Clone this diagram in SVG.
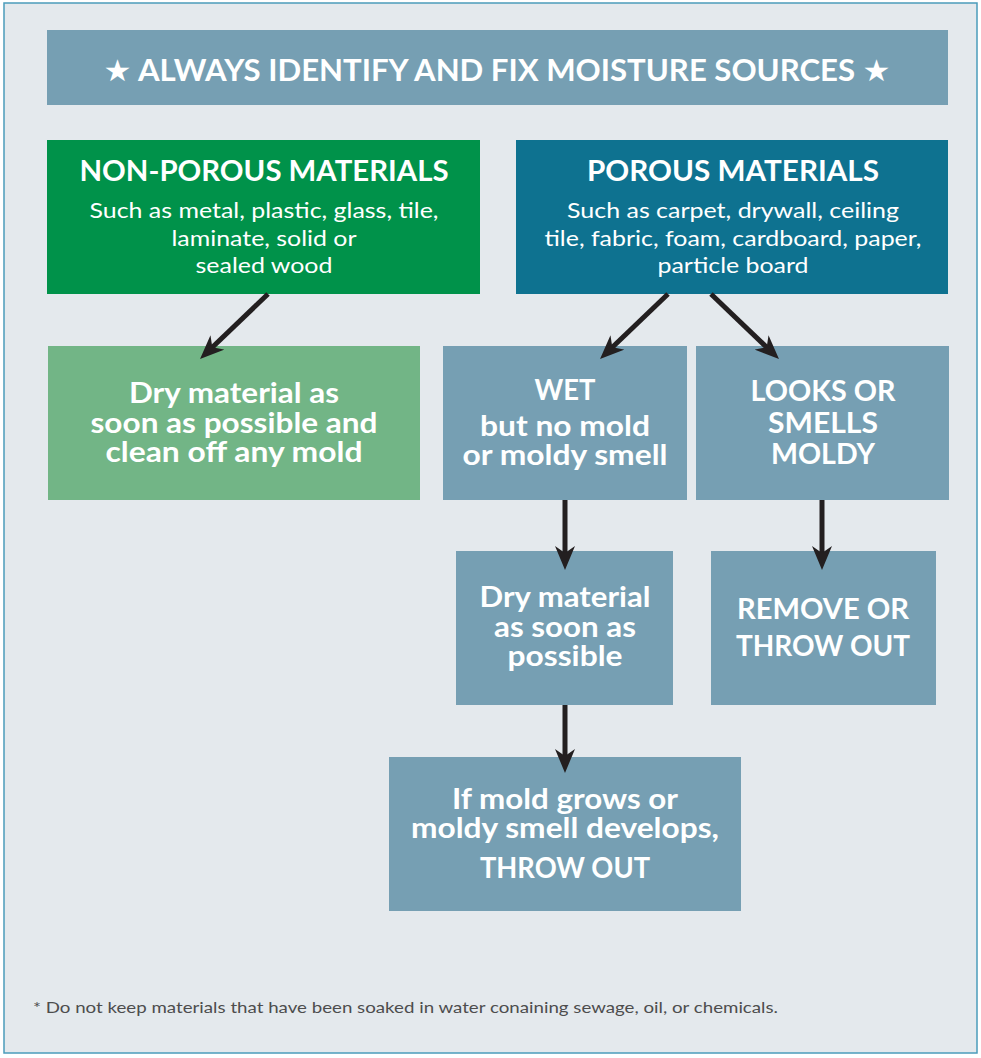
<svg xmlns="http://www.w3.org/2000/svg" width="981" height="1058" viewBox="0 0 981 1058">
<style>
  text { font-family: Lato, "Open Sans", "DejaVu Sans", sans-serif; fill: #ffffff; text-anchor: middle; }
  .b { font-weight: 700; }
  .t { font-size: 28px; font-weight: 700; }
  .s { font-size: 22px; font-weight: 400; }
  .m { font-size: 28px; font-weight: 700; }
  .conn { stroke: #231f20; stroke-width: 5; fill: none; marker-end: url(#ah); }
  .foot { font-size: 16px; fill: #4d4d4d; text-anchor: start; }
</style>
<defs>
  <marker id="ah" viewBox="0 -10 26 20" markerWidth="26" markerHeight="20" refX="12" refY="0" orient="auto" markerUnits="userSpaceOnUse">
    <path d="M24,0 L0,-10 L7,0 L0,10 Z" fill="#231f20"/>
  </marker>
</defs>
<rect x="0" y="0" width="981" height="1058" fill="#ffffff"/>
<rect x="4" y="3" width="973" height="1050" fill="#e4e9ed" stroke="#4b9cbb" stroke-width="1.5"/>

<g id="banner">
  <rect x="47" y="30" width="901" height="75" fill="#769fb3"/>
  <text x="497" y="81" class="b" font-size="30" textLength="787" lengthAdjust="spacingAndGlyphs">★ ALWAYS IDENTIFY AND FIX MOISTURE SOURCES ★</text>
</g>

<g id="non-porous">
  <rect x="47" y="140" width="433" height="154" fill="#00924a"/>
  <text x="264" y="181" class="t" textLength="369" lengthAdjust="spacingAndGlyphs">NON-POROUS MATERIALS</text>
  <text x="264" y="218" class="s" textLength="349" lengthAdjust="spacingAndGlyphs">Such as metal, plastic, glass, tile,</text>
  <text x="264" y="246" class="s" textLength="185" lengthAdjust="spacingAndGlyphs">laminate, solid or</text>
  <text x="264" y="273" class="s" textLength="137" lengthAdjust="spacingAndGlyphs">sealed wood</text>
</g>

<g id="porous">
  <rect x="516" y="140" width="432" height="154" fill="#0e7290"/>
  <text x="733" y="181" class="t" textLength="292" lengthAdjust="spacingAndGlyphs">POROUS MATERIALS</text>
  <text x="733" y="218" class="s" textLength="332" lengthAdjust="spacingAndGlyphs">Such as carpet, drywall, ceiling</text>
  <text x="733" y="246" class="s" textLength="377" lengthAdjust="spacingAndGlyphs">tile, fabric, foam, cardboard, paper,</text>
  <text x="733" y="273" class="s" textLength="151" lengthAdjust="spacingAndGlyphs">particle board</text>
</g>

<g id="dry-clean">
  <rect x="48" y="346" width="372" height="154" fill="#72b586"/>
  <text x="234" y="403" class="m" textLength="210" lengthAdjust="spacingAndGlyphs">Dry material as</text>
  <text x="234" y="433" class="m" textLength="287" lengthAdjust="spacingAndGlyphs">soon as possible and</text>
  <text x="234" y="462" class="m" textLength="257" lengthAdjust="spacingAndGlyphs">clean off any mold</text>
</g>

<g id="wet">
  <rect x="443" y="346" width="244" height="154" fill="#769fb3"/>
  <text x="565" y="400" class="m" textLength="61" lengthAdjust="spacingAndGlyphs">WET</text>
  <text x="565" y="436" class="m" textLength="170" lengthAdjust="spacingAndGlyphs">but no mold</text>
  <text x="565" y="465" class="m" textLength="205" lengthAdjust="spacingAndGlyphs">or moldy smell</text>
</g>

<g id="moldy">
  <rect x="696" y="346" width="253" height="154" fill="#769fb3"/>
  <text x="823" y="401" class="m" textLength="145" lengthAdjust="spacingAndGlyphs">LOOKS OR</text>
  <text x="823" y="433" class="m" textLength="110" lengthAdjust="spacingAndGlyphs">SMELLS</text>
  <text x="823" y="464" class="m" textLength="104" lengthAdjust="spacingAndGlyphs">MOLDY</text>
</g>

<g id="dry-asap">
  <rect x="456" y="551" width="217" height="154" fill="#769fb3"/>
  <text x="565" y="607" class="m" textLength="171" lengthAdjust="spacingAndGlyphs">Dry material</text>
  <text x="565" y="637" class="m" textLength="142" lengthAdjust="spacingAndGlyphs">as soon as</text>
  <text x="565" y="666" class="m" textLength="115" lengthAdjust="spacingAndGlyphs">possible</text>
</g>

<g id="remove">
  <rect x="711" y="551" width="225" height="154" fill="#769fb3"/>
  <text x="823" y="619" class="m" textLength="172" lengthAdjust="spacingAndGlyphs">REMOVE OR</text>
  <text x="823" y="656" class="m" textLength="174" lengthAdjust="spacingAndGlyphs">THROW OUT</text>
</g>

<g id="throw-out">
  <rect x="389" y="757" width="352" height="154" fill="#769fb3"/>
  <text x="565" y="809" class="m" textLength="226" lengthAdjust="spacingAndGlyphs">If mold grows or</text>
  <text x="565" y="838" class="m" textLength="308" lengthAdjust="spacingAndGlyphs">moldy smell develops,</text>
  <text x="565" y="878" class="m" font-weight="400" textLength="170" lengthAdjust="spacingAndGlyphs">THROW OUT</text>
</g>

<g id="connectors">
  <line class="conn" x1="268" y1="294" x2="208.7" y2="350.7"/>
  <line class="conn" x1="668" y1="294" x2="608.7" y2="350.7"/>
  <line class="conn" x1="711" y1="294" x2="770.3" y2="350.7"/>
  <line class="conn" x1="565" y1="500" x2="565" y2="558"/>
  <line class="conn" x1="822" y1="500" x2="822" y2="558"/>
  <line class="conn" x1="565" y1="705" x2="565" y2="761"/>
</g>

<g id="footnote">
  <text x="33" y="1013" class="foot" textLength="745" lengthAdjust="spacingAndGlyphs">* Do not keep materials that have been soaked in water conaining sewage, oil, or chemicals.</text>
</g>
</svg>
